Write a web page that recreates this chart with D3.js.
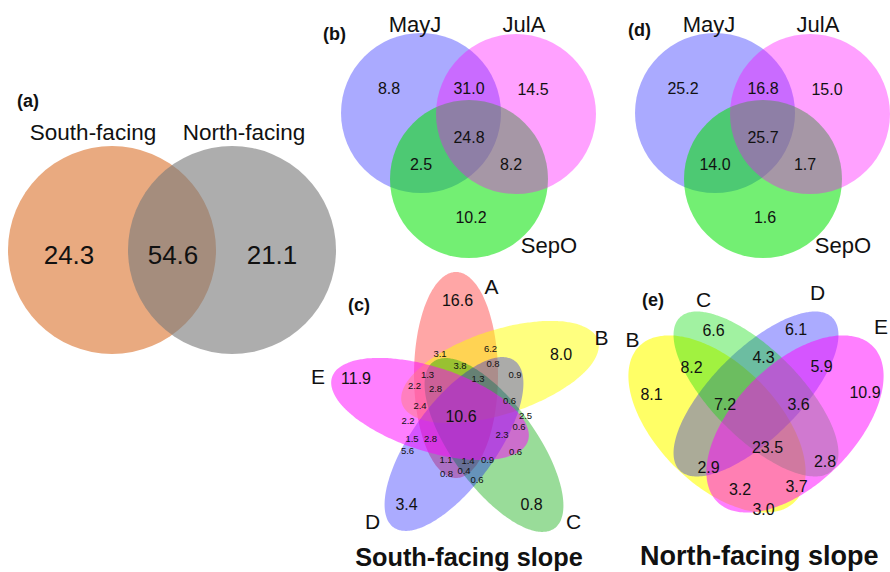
<!DOCTYPE html>
<html>
<head>
<meta charset="utf-8">
<script src="https://cdn.jsdelivr.net/npm/d3@7"></script>
<style>
  body { margin: 0; background: #fff; }
  svg { display: block; font-family: "Liberation Sans", Arial, Helvetica, sans-serif; }
</style>
</head>
<body>
<svg id="fig" width="890" height="572"></svg>
<script>
// ---------------- data: % of OTUs in each Venn region ----------------
// (a) slope aspect
const slopeSets   = ["South-facing", "North-facing"];
const slopeValues = [24.3, 54.6, 21.1];              // S only, shared, N only

// (b)/(d) sampling season
const seasonSets    = ["MayJ", "JulA", "SepO"];
const seasonRegions = ["MayJ", "MayJ&JulA", "JulA", "MayJ&JulA&SepO", "MayJ&SepO", "JulA&SepO", "SepO"];
const southSeasonValues = [8.8, 31.0, 14.5, 24.8, 2.5, 8.2, 10.2];
const northSeasonValues = [25.2, 16.8, 15.0, 25.7, 14.0, 1.7, 1.6];

// (c) south-facing sites A-E
const southSiteSets   = ["A", "B", "C", "D", "E"];
const southSiteValues = [16.6, 8.0, 0.8, 3.4, 11.9, 10.6,
  3.1, 6.2, 3.8, 0.8, 1.3, 1.3, 0.9, 2.2, 2.8, 2.4, 0.6, 2.5, 2.2, 0.6,
  2.3, 1.5, 2.8, 5.6, 0.6, 1.1, 1.4, 0.9, 0.8, 0.4, 0.6];

// (e) north-facing sites B-E
const northSiteSets   = ["B", "C", "D", "E"];
const northSiteValues = [8.1, 6.6, 6.1, 10.9, 8.2, 4.3, 5.9, 7.2, 3.6, 23.5, 2.9, 2.8, 3.2, 3.7, 3.0];

// ---------------- layout (panel-local coordinates) ----------------
const svg = d3.select("#fig");

// each panel gets its own pair of linear scales centred on the panel origin
function panelScales(ox, oy) {
  return {
    x: d3.scaleLinear().domain([-200, 200]).range([ox - 200, ox + 200]),
    y: d3.scaleLinear().domain([-200, 200]).range([oy - 200, oy + 200])
  };
}

// closed ellipse outline in panel units (rotation in degrees, screen orientation)
function ellipsePath(e, s) {
  const th = e.rot * Math.PI / 180;
  const pts = d3.range(0, 360, 2).map(t => {
    const a = t * Math.PI / 180;
    const px = e.a * Math.cos(a), py = e.b * Math.sin(a);
    return [s.x(e.cx + px * Math.cos(th) - py * Math.sin(th)),
            s.y(e.cy + px * Math.sin(th) + py * Math.cos(th))];
  });
  return d3.line().curve(d3.curveCardinalClosed)(pts);
}

function addText(g, s, x, y, txt, size, opts = {}) {
  g.append("text")
    .attr("x", s.x(x)).attr("y", s.y(y))
    .attr("dy", "0.35em")
    .attr("text-anchor", opts.anchor || "middle")
    .attr("font-size", size)
    .attr("font-weight", opts.bold ? "bold" : "normal")
    .attr("fill", "#111")
    .text(txt);
}
const fmt = d3.format(".1f");

// ===== (a) two-set Venn =====
{
  const s = panelScales(172, 250);
  const g = svg.append("g");
  const circles = [
    { cx: -60, cy: 0, r: 104, fill: "rgb(233,170,128)", op: 1 },
    { cx:  60, cy: 0, r: 104, fill: "rgb(122,122,122)", op: 0.62 }
  ];
  g.selectAll("circle").data(circles).join("circle")
    .attr("cx", d => s.x(d.cx)).attr("cy", d => s.y(d.cy))
    .attr("r", d => s.x(d.r) - s.x(0))
    .attr("fill", d => d.fill).attr("fill-opacity", d => d.op);
  const valuePos = [[-103, 5], [1, 5], [100, 5]];
  slopeValues.forEach((v, i) => addText(g, s, valuePos[i][0], valuePos[i][1], fmt(v), 26));
  const setPos = [[-79, -118], [72, -118]];
  slopeSets.forEach((t, i) => addText(g, s, setPos[i][0], setPos[i][1], t, 22.5));
  addText(g, s, -155, -149, "(a)", 18, { anchor: "start", bold: true });
}

// ===== (b) and (d) three-set Venns =====
const seasonCircles = [   // drawn blue, green, pink so pink sits on top
  { set: 0, cx: -48, cy: -27, r: 80, fill: "rgb(0,0,255)",   op: 0.333 },
  { set: 2, cx:   0, cy:  39, r: 79, fill: "rgb(0,225,0)",   op: 0.55 },
  { set: 1, cx:  47, cy: -26, r: 80, fill: "rgb(255,0,255)", op: 0.37 }
];
const seasonValuePos = [[-80, -52], [0, -52], [64, -51], [0, -3], [-48, 24], [42, 24], [2, 77]];
const seasonSetPos   = [[-54, -116], [55, -116], [80, 105]];

function seasonVenn(ox, oy, values, tag, tagPos) {
  const s = panelScales(ox, oy);
  const g = svg.append("g");
  g.selectAll("circle").data(seasonCircles).join("circle")
    .attr("cx", d => s.x(d.cx)).attr("cy", d => s.y(d.cy))
    .attr("r", d => s.x(d.r) - s.x(0))
    .attr("fill", d => d.fill).attr("fill-opacity", d => d.op);
  values.forEach((v, i) => addText(g, s, seasonValuePos[i][0], seasonValuePos[i][1], fmt(v), 16));
  seasonSets.forEach((t, i) => addText(g, s, seasonSetPos[i][0], seasonSetPos[i][1], t, 22));
  addText(g, s, tagPos[0], tagPos[1], tag, 18, { anchor: "start", bold: true });
}
seasonVenn(469, 140, southSeasonValues, "(b)", [-146, -106]);
seasonVenn(763, 140, northSeasonValues, "(d)", [-135, -110]);

// ===== (c) five-set Venn =====
{
  const s = panelScales(466, 410);
  const g = svg.append("g");
  const ell = [
    { cx: -10, cy: -35, a: 103, b: 42, rot: -90, fill: "rgb(255,0,0)",   op: 0.35 },
    { cx:  34, cy: -38, a: 103, b: 42, rot: -18, fill: "rgb(255,255,0)", op: 0.5 },
    { cx:  28, cy:  35, a: 103, b: 42, rot:  54, fill: "rgb(0,167,0)",   op: 0.4 },
    { cx: -12, cy:  34, a: 103, b: 42, rot: 126, fill: "rgb(0,0,255)",   op: 0.33 },
    { cx: -36, cy:  -1, a: 103, b: 42, rot: 198, fill: "rgb(255,0,255)", op: 0.5 }
  ];
  g.selectAll("path").data(ell).join("path")
    .attr("d", d => ellipsePath(d, s))
    .attr("fill", d => d.fill).attr("fill-opacity", d => d.op);

  const pos = [[-8.5, -110], [95, -56], [65.5, 94.5], [-59.5, 94.5], [-110, -32], [-5, 6],
    [-26, -56.5], [24.5, -61.5], [-6, -44], [27, -46.5], [-38.5, -35], [12, -31.5], [49, -35.5],
    [-51.5, -24], [-30.5, -21.5], [-46, -4.5], [43.5, -9.5], [59.5, 5.5], [-58, 11], [53, 17],
    [36, 25], [-54, 28.5], [-35.5, 28.5], [-58.5, 40.5], [49.5, 41.5], [-20, 50], [2, 51],
    [21.5, 50], [-19.5, 63.5], [-2, 61], [11, 69.5]];
  southSiteValues.forEach((v, i) => addText(g, s, pos[i][0], pos[i][1], fmt(v), i < 6 ? 16 : 9.5));
  const setPos = [[25.5, -123.5], [135.5, -72.5], [107.5, 111.5], [-93.5, 111.5], [-148, -33]];
  southSiteSets.forEach((t, i) => addText(g, s, setPos[i][0], setPos[i][1], t, 21));
  addText(g, s, -118, -105, "(c)", 18, { anchor: "start", bold: true });
  addText(g, s, 3, 147, "South-facing slope", 25.3, { bold: true });
}

// ===== (e) four-set Venn =====
{
  const s = panelScales(756, 415);
  const g = svg.append("g");
  const ell = [   // B, D, C, E drawing order
    { cx: -39, cy:   9, a: 110, b: 60, rot:  45, fill: "rgb(255,255,0)", op: 0.6 },
    { cx:   0, cy: -21, a: 108, b: 44, rot: -45, fill: "rgb(0,0,255)",   op: 0.33 },
    { cx:   0, cy: -21, a: 108, b: 44, rot:  45, fill: "rgb(0,220,0)",   op: 0.37 },
    { cx:  39, cy:   9, a: 110, b: 60, rot: -45, fill: "rgb(255,0,255)", op: 0.5 }
  ];
  g.selectAll("path").data(ell).join("path")
    .attr("d", d => ellipsePath(d, s))
    .attr("fill", d => d.fill).attr("fill-opacity", d => d.op);

  const pos = [[-104.5, -20.5], [-42.5, -85], [40, -86], [109, -22.5], [-64.5, -48], [7.5, -57.5],
    [65.5, -49], [-31, -11], [42.5, -11], [11.5, 32.5], [-47.5, 52.5], [69, 46], [-16, 74],
    [40.5, 71], [7.5, 94]];
  northSiteValues.forEach((v, i) => addText(g, s, pos[i][0], pos[i][1], fmt(v), 16));
  const setPos = [[-123.5, -75.5], [-52.5, -115.5], [61.5, -122.5], [125, -88.5]];
  northSiteSets.forEach((t, i) => addText(g, s, setPos[i][0], setPos[i][1], t, 21));
  addText(g, s, -114, -115.5, "(e)", 18, { anchor: "start", bold: true });
  addText(g, s, -116, 141, "North-facing slope", 27, { anchor: "start", bold: true });
}
</script>
</body>
</html>
